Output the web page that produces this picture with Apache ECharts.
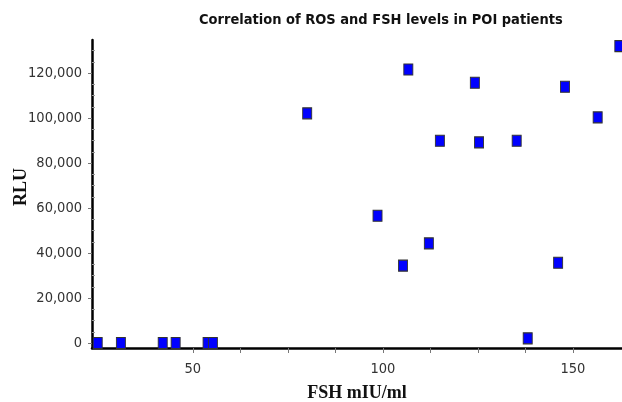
<!DOCTYPE html>
<html>
<head>
<meta charset="utf-8">
<script src="https://cdn.jsdelivr.net/npm/echarts@6/dist/echarts.min.js"></script>
<style>
html, body { margin: 0; padding: 0; background: #fff; }
#chart { width: 622px; height: 402px; }
</style>
</head>
<body>
<div id="chart"></div>
<script>
// FSH (mIU/ml) against ROS (RLU), one entry per patient
var fsh = [25.0, 31.1, 42.1, 45.5, 53.9, 55.3, 80.1, 98.6, 105.3, 106.7, 112.1, 115.0, 124.2, 125.3, 135.2, 138.1, 146.1, 147.9, 156.5, 162.2];
var rlu = [0, 0, 0, 0, 0, 0, 102100, 56600, 34400, 121600, 44300, 89900, 115700, 89200, 89900, 2100, 35700, 113900, 100300, 132000];

var yLabels = [0, 20000, 40000, 60000, 80000, 100000, 120000];
var yMinor = [5000, 10000, 15000, 25000, 30000, 35000, 45000, 50000, 55000, 65000, 70000, 75000, 85000, 90000, 95000, 105000, 110000, 115000, 125000, 130000];
var xLabels = [50, 100, 150];
var xTicks = [50, 62.5, 75, 87.5, 100, 112.5, 125, 137.5, 150];

var points = [];
for (var i = 0; i < fsh.length; i++) {
	points.push([fsh[i], rlu[i]]);
}

var myChart = echarts.init(document.getElementById('chart'));

var numFont = '"DejaVu Sans Condensed", "Liberation Sans Narrow", sans-serif';
var nameFont = '"Liberation Serif", "DejaVu Serif", serif';

var option = {
	animation: false,
	backgroundColor: '#fff',
	title: {
		text: 'Correlation of ROS and FSH levels in POI patients',
		left: 194,
		top: 8,
		textStyle: {
			fontFamily: numFont,
			fontWeight: 'bold',
			fontSize: 14.5,
			color: '#111'
		}
	},
	grid: {
		left: 92,
		right: 0,
		top: 40,
		bottom: 54,
		outerBoundsMode: 'none'
	},
	xAxis: {
		type: 'value',
		min: 23.5,
		max: 162.9,
		name: 'FSH mIU/ml',
		nameLocation: 'middle',
		nameGap: 36,
		nameTextStyle: {
			fontFamily: nameFont,
			fontWeight: 'bold',
			fontSize: 18,
			color: '#111'
		},
		splitLine: { show: false },
		axisLine: { onZero: false, lineStyle: { color: '#000', width: 2.5 } },
		axisTick: {
			length: 5,
			customValues: xTicks,
			lineStyle: { color: '#777' }
		},
		axisLabel: {
			customValues: xLabels,
			margin: 14,
			fontFamily: numFont,
			fontSize: 14.5,
			color: '#333'
		}
	},
	yAxis: [
		{
			type: 'value',
			min: -2200,
			max: 134700,
			name: 'RLU',
			nameLocation: 'middle',
			nameGap: 62,
			nameMoveOverlap: false,
			nameTextStyle: {
				fontFamily: nameFont,
				fontWeight: 'bold',
				fontSize: 18,
				color: '#111',
				padding: [0, 0, 0, 14]
			},
			splitLine: { show: false },
			axisLine: { onZero: false, lineStyle: { color: '#000', width: 2.5 } },
			axisTick: {
				length: 4,
				customValues: yLabels,
				lineStyle: { color: '#777' }
			},
			axisLabel: {
				customValues: yLabels,
				margin: 10,
				fontFamily: numFont,
				fontSize: 14.5,
				color: '#333',
				formatter: function(v) {
					return v.toLocaleString('en-US');
				}
			}
		},
		{
			// minor ticks only
			type: 'value',
			position: 'left',
			min: -2200,
			max: 134700,
			splitLine: { show: false },
			axisLine: { show: false },
			axisLabel: { show: false },
			axisTick: {
				inside: true,
				length: 3,
				customValues: yMinor,
				lineStyle: { color: '#999' }
			}
		}
	],
	series: [
		{
			type: 'scatter',
			data: points,
			symbol: 'rect',
			symbolSize: [9, 11],
			clip: true,
			itemStyle: {
				color: '#0000ff',
				borderColor: '#333',
				borderWidth: 1,
				opacity: 1
			}
		}
	]
};

myChart.setOption(option);
</script>
</body>
</html>
